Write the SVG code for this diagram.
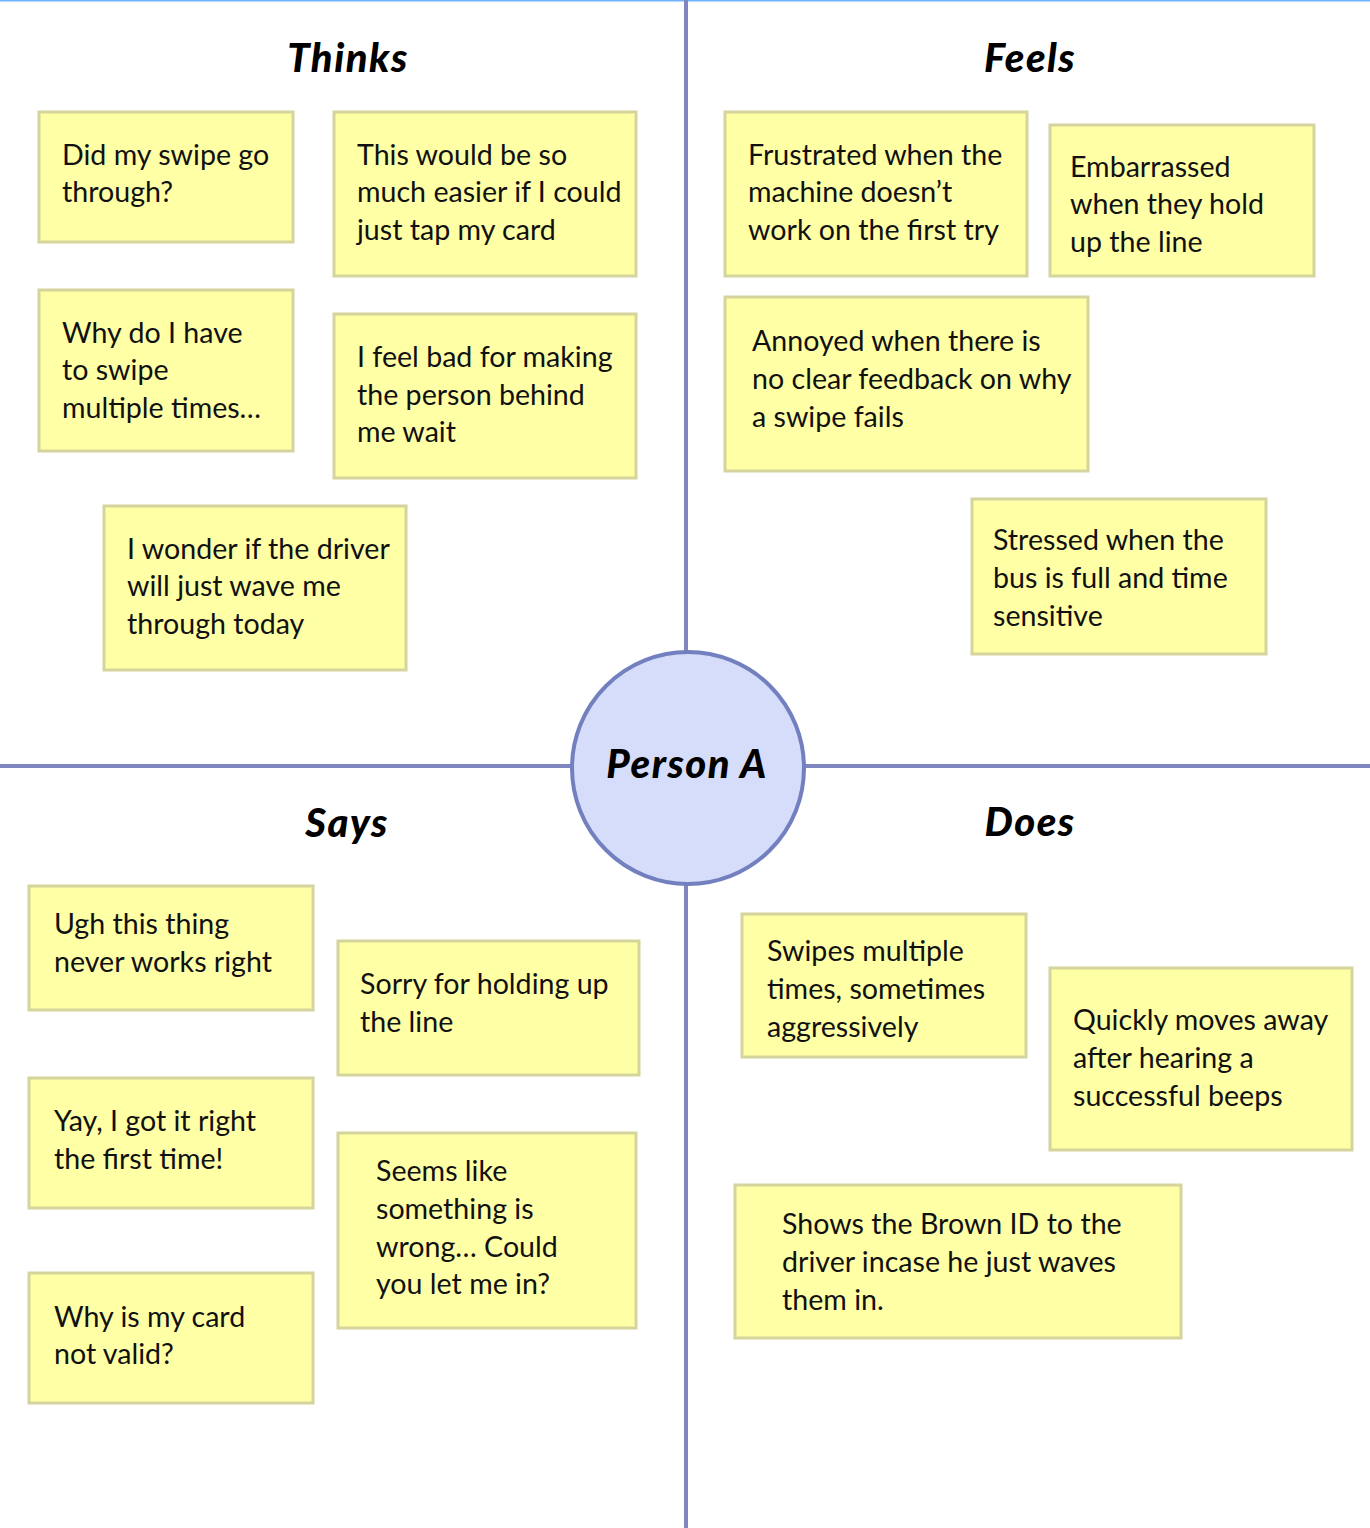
<svg xmlns="http://www.w3.org/2000/svg" width="1370" height="1528" viewBox="0 0 1370 1528">
<style>
.note{fill:#FFFFA5;stroke:#D4D49C;stroke-width:3}
.t{font-family:Lato,"Open Sans",sans-serif;font-size:28.6px;fill:#111}
.h{font-family:"Comic Sans MS",Lato,"Noto Sans",sans-serif;font-weight:900;font-style:italic;font-size:40px;letter-spacing:1.5px;fill:#000;text-anchor:middle}
.axis{stroke:#7F87C1;stroke-width:4;fill:none}
</style>
<rect x="0" y="0" width="1370" height="1528" fill="#fff"/>
<line x1="0" y1="0.5" x2="1370" y2="0.5" stroke="#70B4FF" stroke-width="2"/>
<g id="connectors">
<line class="axis" x1="686" y1="0" x2="686" y2="1528"/>
<line class="axis" x1="0" y1="766" x2="1370" y2="766"/>
</g>
<g id="headings">
<text class="h" x="348" y="72">Thinks</text>
<text class="h" x="1030" y="72">Feels</text>
<text class="h" x="347" y="837">Says</text>
<text class="h" x="1030" y="836">Does</text>
</g>
<g id="person">
<circle cx="688" cy="768" r="116" fill="#D6DDFA" stroke="#7280BF" stroke-width="4"/>
<text class="h" x="687" y="778" style="letter-spacing:1.5px">Person A</text>
</g>
<g id="n1"><rect class="note" x="39" y="112" width="254" height="130"/><text class="t" x="62" y="165">Did my swipe go</text><text class="t" x="62" y="202">through?</text></g>
<g id="n2"><rect class="note" x="334" y="112" width="302" height="164"/><text class="t" x="357" y="165">This would be so</text><text class="t" x="357" y="202">much easier if I could</text><text class="t" x="357" y="240">just tap my card</text></g>
<g id="n3"><rect class="note" x="39" y="290" width="254" height="161"/><text class="t" x="62" y="343">Why do I have</text><text class="t" x="62" y="380">to swipe</text><text class="t" x="62" y="418">multiple times…</text></g>
<g id="n4"><rect class="note" x="334" y="314" width="302" height="164"/><text class="t" x="357" y="367">I feel bad for making</text><text class="t" x="357" y="405">the person behind</text><text class="t" x="357" y="442">me wait</text></g>
<g id="n5"><rect class="note" x="104" y="506" width="302" height="164"/><text class="t" x="127" y="559">I wonder if the driver</text><text class="t" x="127" y="596">will just wave me</text><text class="t" x="127" y="634">through today</text></g>
<g id="n6"><rect class="note" x="725" y="112" width="302" height="164"/><text class="t" x="748" y="165">Frustrated when the</text><text class="t" x="748" y="202">machine doesn’t</text><text class="t" x="748" y="240">work on the first try</text></g>
<g id="n7"><rect class="note" x="1050" y="125" width="264" height="151"/><text class="t" x="1070" y="177">Embarrassed</text><text class="t" x="1070" y="214">when they hold</text><text class="t" x="1070" y="252">up the line</text></g>
<g id="n8"><rect class="note" x="725" y="297" width="363" height="174"/><text class="t" x="752" y="351">Annoyed when there is</text><text class="t" x="752" y="389">no clear feedback on why</text><text class="t" x="752" y="427">a swipe fails</text></g>
<g id="n9"><rect class="note" x="972" y="499" width="294" height="155"/><text class="t" x="993" y="550">Stressed when the</text><text class="t" x="993" y="588">bus is full and time</text><text class="t" x="993" y="626">sensitive</text></g>
<g id="n10"><rect class="note" x="29" y="886" width="284" height="124"/><text class="t" x="54" y="934">Ugh this thing</text><text class="t" x="54" y="972">never works right</text></g>
<g id="n11"><rect class="note" x="338" y="941" width="301" height="134"/><text class="t" x="360" y="994">Sorry for holding up</text><text class="t" x="360" y="1032">the line</text></g>
<g id="n12"><rect class="note" x="29" y="1078" width="284" height="130"/><text class="t" x="54" y="1131">Yay, I got it right</text><text class="t" x="54" y="1169">the first time!</text></g>
<g id="n13"><rect class="note" x="338" y="1133" width="298" height="195"/><text class="t" x="376" y="1181">Seems like</text><text class="t" x="376" y="1219">something is</text><text class="t" x="376" y="1257">wrong… Could</text><text class="t" x="376" y="1294">you let me in?</text></g>
<g id="n14"><rect class="note" x="29" y="1273" width="284" height="130"/><text class="t" x="54" y="1327">Why is my card</text><text class="t" x="54" y="1364">not valid?</text></g>
<g id="n15"><rect class="note" x="742" y="914" width="284" height="143"/><text class="t" x="767" y="961">Swipes multiple</text><text class="t" x="767" y="999">times, sometimes</text><text class="t" x="767" y="1037">aggressively</text></g>
<g id="n16"><rect class="note" x="1050" y="968" width="302" height="182"/><text class="t" x="1073" y="1030">Quickly moves away</text><text class="t" x="1073" y="1068">after hearing a</text><text class="t" x="1073" y="1106">successful beeps</text></g>
<g id="n17"><rect class="note" x="735" y="1185" width="446" height="153"/><text class="t" x="782" y="1234">Shows the Brown ID to the</text><text class="t" x="782" y="1272">driver incase he just waves</text><text class="t" x="782" y="1310">them in.</text></g>
</svg>
